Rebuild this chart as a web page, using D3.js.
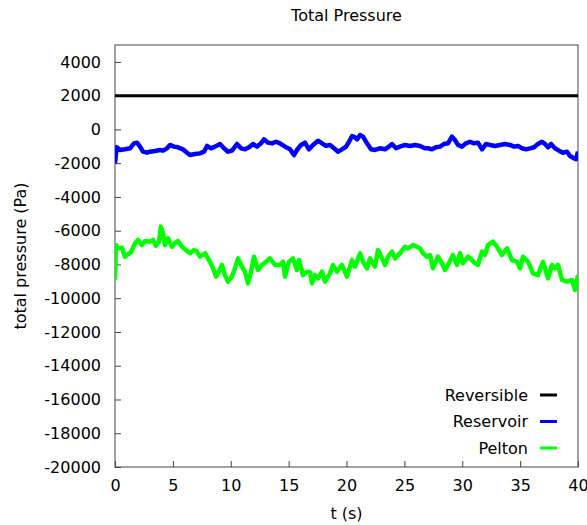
<!DOCTYPE html>
<head>
    <meta charset="utf-8">
    <script src="https://cdn.jsdelivr.net/npm/d3@7"></script>
    <style type="text/css">
        body { margin: 0; background: #fff; }
        text { font-family: "DejaVu Sans", sans-serif; font-size: 16px; fill: #000; }
        .border { fill: none; stroke: #444; stroke-width: 1px; }
        .tick line { stroke: #444; }
    </style>
</head>
<body>
    <div id="chart"></div>
</body>
</html>

<script type="text/javascript">
    // values
    var xTicks = [0, 5, 10, 15, 20, 25, 30, 35, 40];
    var yTicks = [4000, 2000, 0, -2000, -4000, -6000, -8000, -10000, -12000, -14000, -16000, -18000, -20000];

    var reversibleT = [0, 40];
    var reversibleP = [2000, 2000];

    var reservoirT = [0, 0.15, 0.43, 0.86, 1.30, 1.64, 1.90, 2.16, 2.42, 2.76, 3.02, 3.46, 3.89, 4.15, 4.49, 4.75,
        5.10, 5.44, 5.87, 6.22, 6.48, 6.91, 7.34, 7.69, 7.95, 8.29, 8.64, 9.07, 9.42, 9.76, 10.11, 10.54, 10.89,
        11.23, 11.58, 11.92, 12.27, 12.61, 12.87, 13.22, 13.56, 13.91, 14.25, 14.69, 15.12, 15.46, 15.72, 16.07,
        16.41, 16.76, 17.11, 17.54, 17.88, 18.23, 18.57, 18.92, 19.27, 19.61, 19.96, 20.22, 20.48, 20.73, 20.91,
        21.17, 21.43, 21.77, 22.12, 22.46, 22.89, 23.33, 23.67, 23.93, 24.28, 24.62, 25.05, 25.49, 25.92, 26.35,
        26.78, 27.04, 27.39, 27.73, 28.08, 28.42, 28.77, 29.11, 29.37, 29.63, 29.98, 30.32, 30.67, 31.01, 31.36,
        31.71, 32.05, 32.40, 32.83, 33.26, 33.69, 34.13, 34.47, 34.82, 35.16, 35.51, 35.85, 36.20, 36.54, 36.89,
        37.15, 37.41, 37.67, 38.01, 38.36, 38.70, 39.05, 39.31, 39.65, 39.83, 40.0];
    var reservoirP = [-2000, -1050, -1220, -1180, -1120, -825, -785, -1020, -1320, -1380, -1320, -1280, -1220, -1260, -1120, -920,
        -1020, -1060, -1180, -1380, -1520, -1460, -1420, -1320, -980, -1120, -1020, -865, -1120, -1320, -1260, -865, -1120,
        -1180, -1060, -865, -1020, -825, -590, -785, -825, -730, -825, -1020, -1180, -1520, -1220, -920,
        -785, -1180, -920, -670, -825, -980, -920, -1120, -1320, -1180, -1020, -730, -390, -470, -590,
        -330, -430, -825, -1180, -1220, -1120, -1180, -1020, -865, -1120, -1020, -920, -980, -920, -980,
        -1120, -1120, -1180, -1060, -1020, -865, -825, -430, -630, -920, -1020, -825, -730, -825, -785,
        -1180, -865, -920, -980, -920, -865, -920, -1020, -980, -1120, -1180, -1120, -1060, -865, -730,
        -865, -1060, -865, -1120, -1260, -1380, -1320, -1580, -1710, -1770, -1320];

    var peltonT = [0, 0.08, 0.26, 0.60, 0.86, 1.12, 1.38, 1.73, 1.99, 2.33, 2.59, 3.02, 3.28, 3.54, 3.80, 3.97, 4.15,
        4.32, 4.58, 4.92, 5.18, 5.44, 5.79, 6.13, 6.48, 6.83, 7.08, 7.34, 7.78, 8.21, 8.47, 8.73, 8.98, 9.24, 9.50,
        9.76, 10.11, 10.37, 10.63, 10.97, 11.23, 11.49, 11.75, 12.01, 12.35, 12.70, 13.05, 13.39, 13.82, 14.25,
        14.51, 14.69, 15.03, 15.38, 15.72, 15.90, 16.24, 16.59, 16.85, 17.02, 17.28, 17.54, 17.88, 18.14, 18.57,
        18.83, 19.18, 19.61, 20.04, 20.48, 20.73, 21.17, 21.43, 21.77, 22.03, 22.46, 22.72, 23.07, 23.33, 23.59,
        23.93, 24.19, 24.62, 25.05, 25.31, 25.75, 26.09, 26.35, 26.61, 26.95, 27.21, 27.47, 27.90, 28.25, 28.51,
        28.77, 29.20, 29.55, 29.81, 30.06, 30.50, 30.84, 31.10, 31.36, 31.71, 31.97, 32.22, 32.66, 33.00, 33.43,
        33.87, 34.30, 34.73, 34.99, 35.25, 35.68, 36.11, 36.54, 36.98, 37.41, 37.75, 38.01, 38.27, 38.62, 39.05,
        39.48, 39.74, 40.0];
    var peltonP = [-8900, -6850, -7050, -7010, -7540, -7400, -7280, -6750, -6550, -6850, -6610, -6650, -6550, -6890, -6650, -5760, -6160,
        -6850, -6450, -6950, -6750, -6610, -6950, -7150, -7340, -7150, -7240, -7540, -7340, -7840, -8230, -8720, -8430, -8030, -8630,
        -9020, -8720, -8230, -7640, -8130, -8430, -9120, -8430, -7540, -8330, -8030, -7840, -7640, -8030, -8030,
        -7840, -8720, -7840, -7640, -8330, -7740, -8630, -8430, -8470, -9120, -8630, -8820, -8430, -9020, -8530,
        -8030, -8430, -8030, -8720, -7740, -8130, -7340, -7840, -8230, -7640, -8130, -7150, -7640, -8030, -7540,
        -7240, -7640, -7340, -6950, -7050, -6850, -6950, -7050, -7340, -7540, -7440, -8230, -7540, -7930, -8330,
        -8030, -7440, -8030, -7340, -7930, -7540, -7740, -7930, -8030, -7240, -7440, -6850, -6650, -6950, -7440,
        -7050, -7740, -7840, -8230, -7540, -7840, -8530, -8630, -7840, -8820, -8030, -8230, -8030, -8920, -9020,
        -8920, -9510, -8630];

    var seriesNames = ["Reversible", "Reservoir", "Pelton"];
    var seriesColors = ["#000000", "#0000ff", "#00ff00"];
    var seriesWidths = [3, 4.5, 4.5];

    var width = 587, height = 525;
    var margin = {top: 45, right: 9, bottom: 58, left: 115};
    var w = width - margin.left - margin.right,
        h = height - margin.top - margin.bottom;

    var svg = d3.select("#chart").append("svg")
        .attr("width", width)
        .attr("height", height);

    var g = svg.append("g")
        .attr("transform", "translate(" + margin.left + "," + margin.top + ")");

    var x = d3.scaleLinear().domain([0, 40]).range([0, w]);
    var y = d3.scaleLinear().domain([-20000, 5000]).range([h, 0]);

    var plain = function(d) { return String(d); };

    // axes, ticks pointing inward like gnuplot
    var xAxis = g.append("g")
        .attr("transform", "translate(0," + h + ")")
        .call(d3.axisBottom(x).tickValues(xTicks).tickFormat(plain).tickSize(-6).tickPadding(10));
    var yAxis = g.append("g")
        .call(d3.axisLeft(y).tickValues(yTicks).tickFormat(plain).tickSize(-6).tickPadding(14));
    [xAxis, yAxis].forEach(function(a) {
        a.select(".domain").remove();
        a.selectAll("text").style("font-size", "16px").style("font-family", "DejaVu Sans, sans-serif").attr("fill", "#000");
    });
    xAxis.selectAll("text").attr("dy", "0.85em");

    g.append("rect")
        .attr("class", "border")
        .attr("x", 0).attr("y", 0)
        .attr("width", w).attr("height", h);

    g.append("clipPath").attr("id", "clip")
        .append("rect").attr("x", 0).attr("y", -2).attr("width", w).attr("height", h + 4);

    var line = d3.line()
        .x(function(d) { return x(d[0]); })
        .y(function(d) { return y(d[1]); });

    var series = [
        d3.zip(reversibleT, reversibleP),
        d3.zip(reservoirT, reservoirP),
        d3.zip(peltonT, peltonP)
    ];

    g.append("g").attr("clip-path", "url(#clip)")
        .selectAll("path")
        .data(series)
        .enter().append("path")
        .attr("d", line)
        .attr("fill", "none")
        .attr("stroke", function(d, i) { return seriesColors[i]; })
        .attr("stroke-width", function(d, i) { return seriesWidths[i]; })
        .attr("stroke-linejoin", "round");

    // legend (bottom right)
    var legend = g.append("g")
        .attr("transform", "translate(" + (w - 50) + "," + (h - 72) + ")");
    var items = legend.selectAll("g")
        .data(seriesNames)
        .enter().append("g")
        .attr("transform", function(d, i) { return "translate(0," + (i * 26.5) + ")"; });
    items.append("text")
        .attr("text-anchor", "end")
        .attr("dy", "0.35em")
        .text(function(d) { return d; });
    items.append("line")
        .attr("x1", 12).attr("x2", 29)
        .attr("stroke", function(d, i) { return seriesColors[i]; })
        .attr("stroke-width", 3);

    // title and axis labels
    svg.append("text")
        .attr("x", margin.left + w / 2)
        .attr("y", 21)
        .attr("text-anchor", "middle")
        .text("Total Pressure");

    svg.append("text")
        .attr("x", margin.left + w / 2)
        .attr("y", 519)
        .attr("text-anchor", "middle")
        .text("t (s)");

    svg.append("text")
        .attr("transform", "translate(26," + (margin.top + h / 2) + ") rotate(-90)")
        .attr("text-anchor", "middle")
        .text("total pressure (Pa)");
</script>
